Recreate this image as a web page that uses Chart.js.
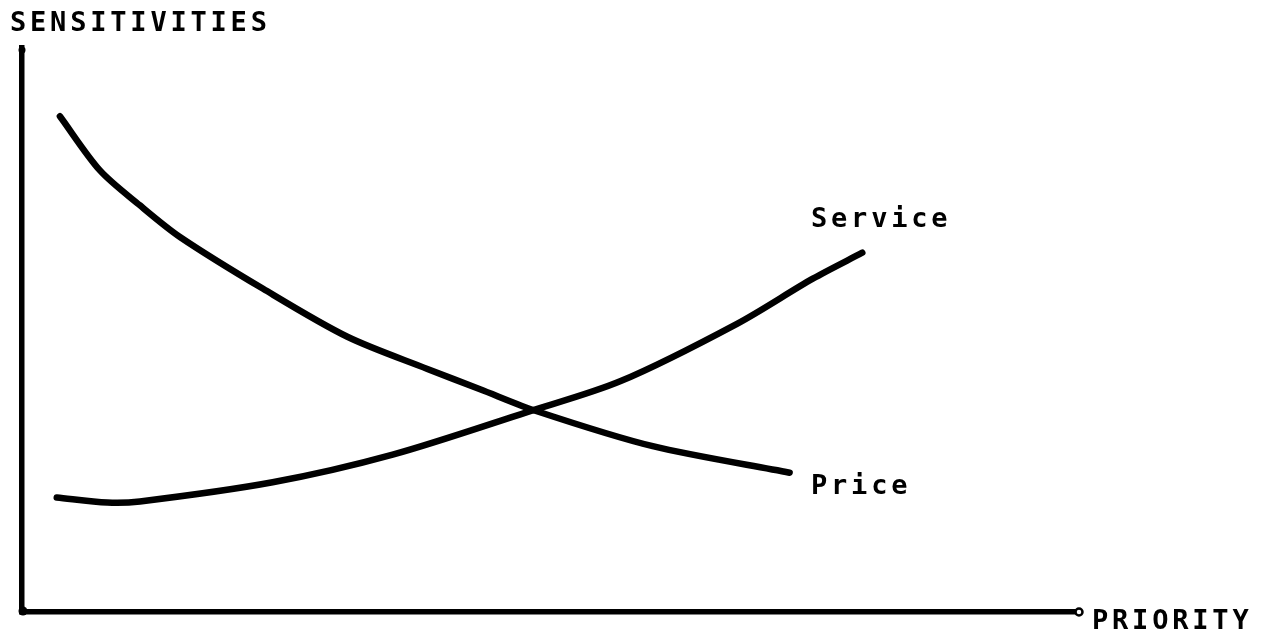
<!DOCTYPE html>
<html>
<head>
<meta charset="utf-8">
<script src="https://cdn.jsdelivr.net/npm/chart.js@4"></script>
<style>
  html, body { margin: 0; padding: 0; background: #fff; }
  #wrap { width: 1263px; height: 640px; }
</style>
</head>
<body>
<div id="wrap"><canvas id="grafica"></canvas></div>
<script>
// priority (x) and sensitivity (y), 0-100 scale
const priceX = [3.6, 7.4, 11.2, 15.0, 22.9, 30.9, 38.5, 43.5, 48.9, 59.9, 72.9];
const priceY = [87.9, 78.3, 72.1, 66.5, 57.3, 48.8, 43.1, 39.5, 35.6, 29.4, 24.7];
const serviceX = [3.3, 8.1, 11.2, 23.8, 35.2, 47.9, 56.8, 67.9, 75.1, 79.8];
const serviceY = [20.3, 19.4, 19.6, 23.0, 27.9, 35.4, 40.9, 51.1, 59.1, 63.7];

const axisTitleX = 'PRIORITY';
const axisTitleY = 'SENSITIVITIES';
const seriesNames = ['Price', 'Service'];

const toPoints = (xs, ys) => xs.map((x, i) => ({ x: x, y: ys[i] }));

// texte et petit rond au bout de l'axe
const etiquetas = {
  id: 'etiquetas',
  afterDraw(chart) {
    const { ctx, chartArea, scales } = chart;
    ctx.save();
    ctx.fillStyle = '#000';
    ctx.font = 'bold 27px "DejaVu Sans Mono"';
    ctx.letterSpacing = '3.8px';
    ctx.textBaseline = 'middle';
    ctx.fillText(axisTitleY, 10, 24);
    ctx.fillText(axisTitleX, 1092, 622);

    // series labels next to line ends
    ctx.fillText(seriesNames[0], 811, 487);
    ctx.fillText(seriesNames[1], 811, 220);

    // arrow tip on x axis
    ctx.beginPath();
    ctx.lineWidth = 2.5;
    ctx.arc(chartArea.right + 4, scales.y.bottom, 3.5, 0, Math.PI * 2);
    ctx.stroke();
    // rounded top of y axis
    ctx.beginPath();
    ctx.arc(scales.x.left, chartArea.top + 2, 3.5, 0, Math.PI * 2);
    ctx.fill();
    // rounded corner blob
    ctx.beginPath();
    ctx.arc(scales.x.left + 1, scales.y.bottom - 1, 4.5, 0, Math.PI * 2);
    ctx.fill();
    ctx.restore();
  }
};

new Chart(document.getElementById('grafica'), {
  type: 'line',
  data: {
    datasets: [
      {
        label: seriesNames[0],
        data: toPoints(priceX, priceY),
        borderColor: '#000',
        borderWidth: 6.5,
        pointRadius: 0,
        tension: 0.3,
        borderCapStyle: 'round'
      },
      {
        label: seriesNames[1],
        data: toPoints(serviceX, serviceY),
        borderColor: '#000',
        borderWidth: 6.5,
        pointRadius: 0,
        tension: 0.3,
        borderCapStyle: 'round'
      }
    ]
  },
  options: {
    responsive: true,
    maintainAspectRatio: false,
    animation: false,
    layout: { padding: { left: 14, top: 48, right: 188, bottom: 20 } },
    plugins: { legend: { display: false }, tooltip: { enabled: false } },
    scales: {
      x: {
        type: 'linear', min: 0, max: 100,
        grid: { display: false },
        border: { display: true, color: '#000', width: 5.5 },
        ticks: { display: false }
      },
      y: {
        type: 'linear', min: 0, max: 100,
        grid: { display: false },
        border: { display: true, color: '#000', width: 5.5 },
        ticks: { display: false }
      }
    }
  },
  plugins: [etiquetas]
});
</script>
</body>
</html>
